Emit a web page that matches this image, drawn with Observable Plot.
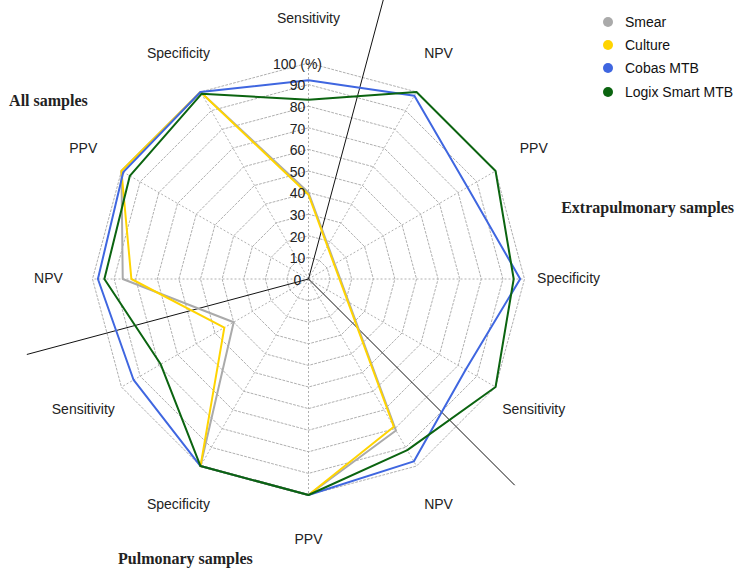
<!DOCTYPE html>
<html>
<head>
<meta charset="utf-8">
<script src="https://cdn.jsdelivr.net/npm/d3@7"></script>
<script src="https://cdn.jsdelivr.net/npm/@observablehq/plot@0.6"></script>
<style>
  body { margin: 0; background: #fff; }
  #wrap { position: relative; width: 740px; height: 577px; }
  #legend { position: absolute; left: 603px; top: 10px; font: 14px "Liberation Sans", Arial, sans-serif; color: #111; }
  #legend .row { display: flex; align-items: center; height: 23.3px; }
  #legend .sw { width: 10px; height: 10px; border-radius: 50%; margin-right: 12px; }
</style>
</head>
<body>
<div id="wrap"><div id="legend"></div></div>
<script>
// ---- data ----
const axes = ["Sensitivity","NPV","PPV","Specificity","Sensitivity","NPV","PPV","Specificity","Sensitivity","NPV","PPV","Specificity"];
const sections = ["All samples", "Extrapulmonary samples", "Pulmonary samples"];
const levels = [0,10,20,30,40,50,60,70,80,90,100];
const tickLabels = ["0","10","20","30","40","50","60","70","80","90","100 (%)"];
const series = ["Smear", "Culture", "Cobas MTB", "Logix Smart MTB"];
const smear   = [40, null, null, null, null, 81, 100, 100, 40, 86, 100, 100];
const culture = [39, null, null, null, null, 79, 100, 100, 45, 82, 100, 100];
const cobas   = [92, 98, 85, 98, 84, 97.5, 100, 100, 93.5, 97.5, 99, 100];
const logix   = [83, 100, 100, 95, 100, 91.5, 100, 100, 79, 94.5, 95.5, 99];
const dividerAngles = [15, 135, 255];
const colors = ["#aaaaaa", "#ffd400", "#3f66e0", "#0b6410"];

// ---- layout ----
const W = 740, H = 577, cx = 308, cy = 278.5, k = 2.16; // px per percent
const N = axes.length;
const polar = (r, deg) => ({x: r * Math.sin(deg * Math.PI / 180), y: r * Math.cos(deg * Math.PI / 180)});
const ang = i => i * 360 / N;
const sectionPos = [[-120.4, 82.6], [157, 33.1], [-57, -129.4]];

const values = [smear, culture, cobas, logix];
const rows = series.flatMap((name, s) => values[s].map((v, i) => v == null ? null : {series: name, ...polar(v, ang(i))}).filter(d => d));
const rings = levels.filter(l => l > 0).flatMap(l => axes.map((_, i) => ({l, ...polar(l, ang(i))})));
const spokes = axes.map((_, i) => polar(100, ang(i)));
const labelPts = axes.map((a, i) => ({a, ...polar(120.4, ang(i))}));
const dividers = dividerAngles.map(a => polar(135, a));

const font = '"Liberation Sans", Arial, sans-serif';
const chart = Plot.plot({
  width: W, height: H,
  margin: 0,
  x: {domain: [-cx / k, (W - cx) / k], axis: null},
  y: {domain: [-(H - cy) / k, cy / k], axis: null},
  color: {domain: series, range: colors},
  style: {fontFamily: font, background: "#fff"},
  marks: [
    Plot.line(rings, {x: "x", y: "y", z: "l", curve: "linear-closed", stroke: "#b0b0b0", strokeWidth: 1, strokeDasharray: "2,2"}),
    Plot.link(spokes, {x1: () => 0, y1: () => 0, x2: "x", y2: "y", stroke: "#b0b0b0", strokeWidth: 1, strokeDasharray: "2,2"}),
    Plot.link(dividers, {x1: () => 0, y1: () => 0, x2: "x", y2: "y", stroke: "#111", strokeWidth: 1}),
    Plot.line(rows, {x: "x", y: "y", z: "series", stroke: "series", curve: "linear-closed", strokeWidth: 2}),
    Plot.text(levels, {x: () => -5.1, y: d => d - 0.6, text: (d, i) => tickLabels[i], fontSize: 14, fill: "#222"}),
    Plot.text(labelPts, {x: "x", y: "y", text: "a", fontSize: 14, fill: "#222"}),
    Plot.text(sections, {x: (d, i) => sectionPos[i][0], y: (d, i) => sectionPos[i][1], text: d => d, fontSize: 16, fontWeight: "bold", fontFamily: '"Liberation Serif", "Times New Roman", serif', fill: "#222"})
  ]
});
document.getElementById("wrap").prepend(chart);

const lg = document.getElementById("legend");
series.forEach((s, i) => {
  const row = document.createElement("div");
  row.className = "row";
  row.innerHTML = `<span class="sw" style="background:${colors[i]}"></span><span>${s}</span>`;
  lg.appendChild(row);
});
</script>
</body>
</html>
